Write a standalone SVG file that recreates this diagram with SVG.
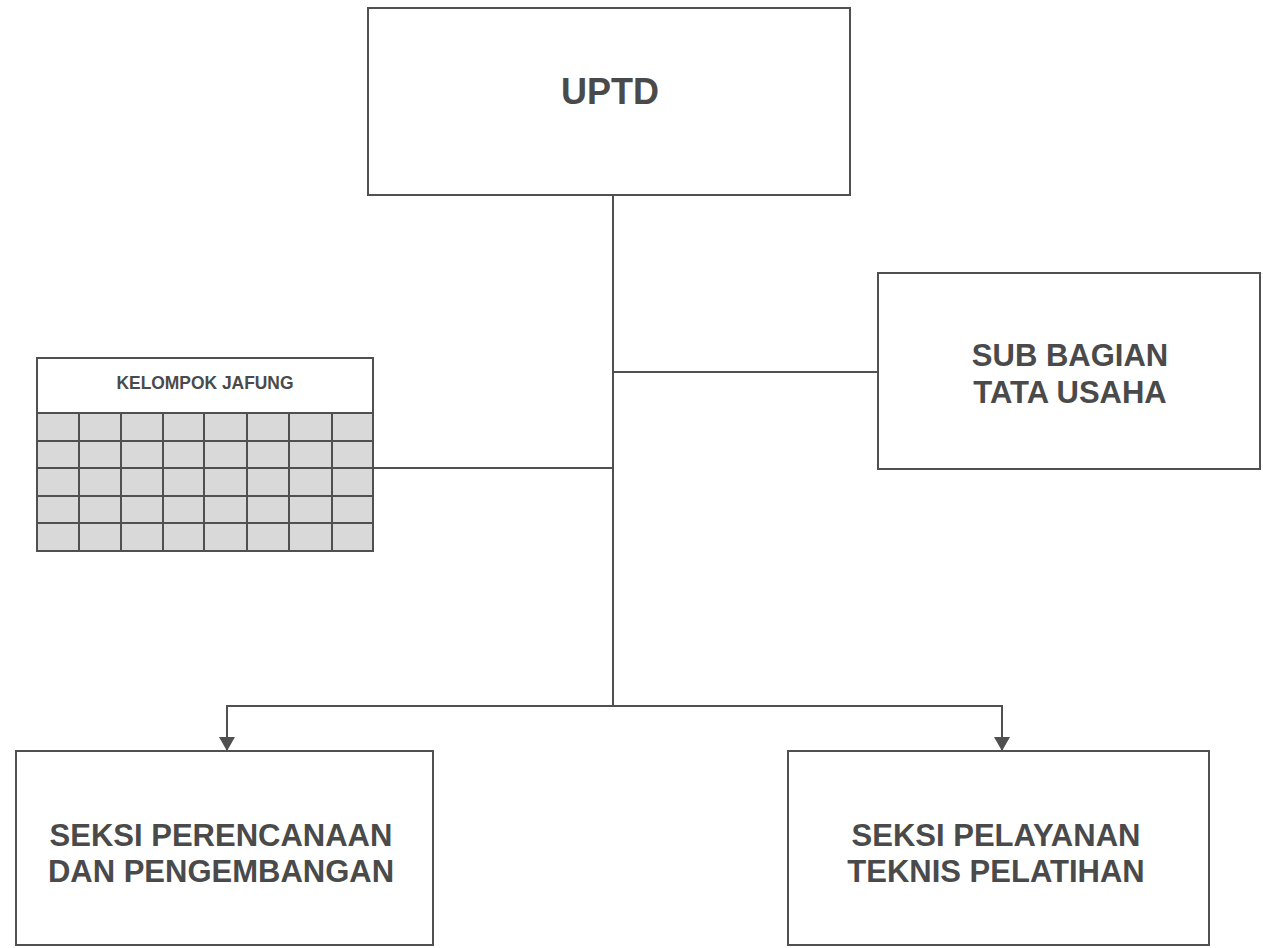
<svg xmlns="http://www.w3.org/2000/svg" width="1263" height="948" viewBox="0 0 1263 948">
<style>
.box{fill:#ffffff;stroke:#505050;stroke-width:2}
.ln{fill:none;stroke:#505050;stroke-width:2}
.grid{fill:none;stroke:#505050;stroke-width:2}
.t{font-family:"Liberation Sans",Arial,sans-serif;font-weight:bold;fill:#4a4a4a;text-anchor:middle}
</style>
<defs>
<marker id="arr" viewBox="0 0 16 14" markerWidth="16" markerHeight="14" refX="8" refY="14" orient="0" markerUnits="userSpaceOnUse">
<path d="M0,0 L16,0 L8,14 Z" fill="#505050"/>
</marker>
</defs>
<rect width="1263" height="948" fill="#ffffff"/>
<g id="connectors">
<line class="ln" x1="613" y1="195" x2="613" y2="706"/>
<line class="ln" x1="613" y1="372" x2="878" y2="372"/>
<line class="ln" x1="373" y1="468" x2="613" y2="468"/>
<polyline class="ln" points="227,751 227,706 1002,706 1002,751" marker-start="url(#arr)" marker-end="url(#arr)"/>
</g>
<g id="uptd">
<rect class="box" x="368" y="8" width="482" height="187"/>
<text class="t" x="610" y="104" font-size="36">UPTD</text>
</g>
<g id="sub-bagian">
<rect class="box" x="878" y="273" width="382" height="196"/>
<text class="t" x="1070" y="366" font-size="31">SUB BAGIAN</text>
<text class="t" x="1070" y="403" font-size="31">TATA USAHA</text>
</g>
<g id="kelompok-jafung">
<rect class="box" x="37" y="358" width="336" height="55"/>
<text class="t" x="205" y="389" font-size="17.5" textLength="177" lengthAdjust="spacingAndGlyphs">KELOMPOK JAFUNG</text>
<rect x="37" y="413" width="336" height="138" fill="#d9d9d9" stroke="#505050" stroke-width="2"/>
<g class="grid">
<line x1="37" y1="441" x2="373" y2="441"/>
<line x1="37" y1="468" x2="373" y2="468"/>
<line x1="37" y1="496" x2="373" y2="496"/>
<line x1="37" y1="523" x2="373" y2="523"/>
<line x1="79" y1="413" x2="79" y2="551"/>
<line x1="121" y1="413" x2="121" y2="551"/>
<line x1="163" y1="413" x2="163" y2="551"/>
<line x1="204" y1="413" x2="204" y2="551"/>
<line x1="247" y1="413" x2="247" y2="551"/>
<line x1="289" y1="413" x2="289" y2="551"/>
<line x1="332" y1="413" x2="332" y2="551"/>
</g>
</g>
<g id="seksi-perencanaan">
<rect class="box" x="16" y="751" width="417" height="194"/>
<text class="t" x="221" y="846" font-size="31">SEKSI PERENCANAAN</text>
<text class="t" x="221" y="882" font-size="31">DAN PENGEMBANGAN</text>
</g>
<g id="seksi-pelayanan">
<rect class="box" x="788" y="751" width="421" height="194"/>
<text class="t" x="996" y="846" font-size="31">SEKSI PELAYANAN</text>
<text class="t" x="996" y="882" font-size="31">TEKNIS PELATIHAN</text>
</g>
</svg>
